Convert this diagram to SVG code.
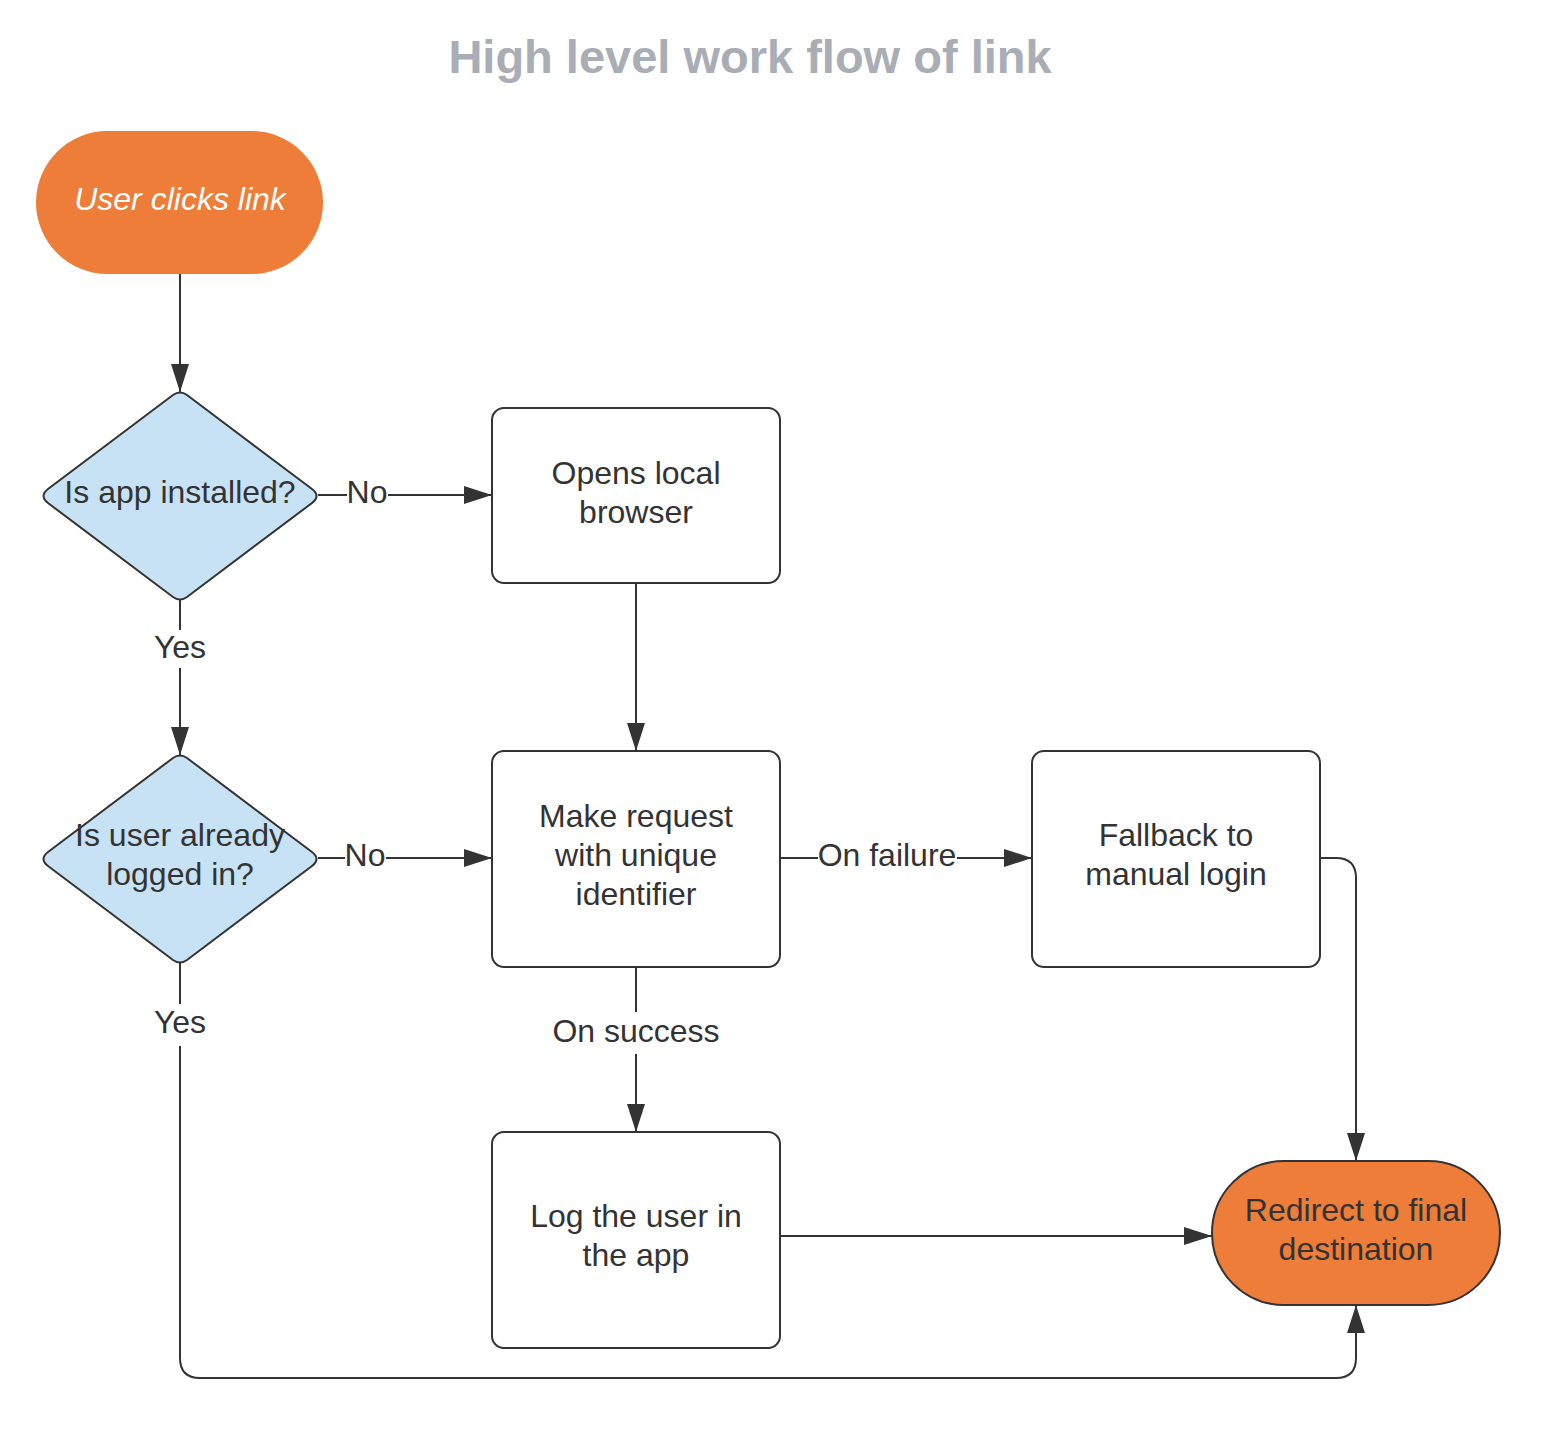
<svg xmlns="http://www.w3.org/2000/svg" width="1548" height="1430" viewBox="0 0 1548 1430">
<defs>
<style>
.t{font-family:"Liberation Sans",Arial,sans-serif;font-size:32px;fill:#333;text-anchor:middle}
.lbl{font-family:"Liberation Sans",Arial,sans-serif;font-size:32px;fill:#333;text-anchor:middle}
.box{fill:#fff;stroke:#333;stroke-width:2}
.dia{fill:#c7e2f5;stroke:#333;stroke-width:2;stroke-linejoin:round}
.term{fill:#ed7d38}
.c{fill:none;stroke:#333;stroke-width:2}
.bg{fill:#fff}
</style>
<marker id="ah" markerUnits="userSpaceOnUse" markerWidth="28" markerHeight="18" refX="28" refY="9" orient="auto">
<path d="M0,0 L28,9 L0,18 z" fill="#333"/>
</marker>
</defs>
<rect width="1548" height="1430" fill="#fff"/>
<text x="750" y="73" font-family="Liberation Sans,Arial,sans-serif" font-weight="bold" font-size="47" fill="#a9adb5" text-anchor="middle">High level work flow of link</text>

<g id="connectors">
<path class="c" d="M180,274 V392" marker-end="url(#ah)"/>
<path class="c" d="M318,495 H492" marker-end="url(#ah)"/>
<path class="c" d="M180,600 V755" marker-end="url(#ah)"/>
<path class="c" d="M636,583 V751" marker-end="url(#ah)"/>
<path class="c" d="M318,858 H492" marker-end="url(#ah)"/>
<path class="c" d="M780,858 H1032" marker-end="url(#ah)"/>
<path class="c" d="M636,967 V1132" marker-end="url(#ah)"/>
<path class="c" d="M1320,858 H1336 Q1356,858 1356,878 V1161" marker-end="url(#ah)"/>
<path class="c" d="M780,1236 H1212" marker-end="url(#ah)"/>
<path class="c" d="M180,963 V1358 Q180,1378 200,1378 H1336 Q1356,1378 1356,1358 V1305" marker-end="url(#ah)"/>
<rect class="bg" x="347" y="475" width="41" height="36"/>
<text class="lbl" x="367" y="503">No</text>
<rect class="bg" x="148" y="630" width="64" height="38"/>
<text class="lbl" x="180" y="658">Yes</text>
<rect class="bg" x="345" y="838" width="41" height="36"/>
<text class="lbl" x="365" y="866">No</text>
<rect class="bg" x="818" y="838" width="139" height="36"/>
<text class="lbl" x="887" y="866">On failure</text>
<rect class="bg" x="548" y="1012" width="176" height="42"/>
<text class="lbl" x="636" y="1042">On success</text>
<rect class="bg" x="148" y="1004" width="64" height="42"/>
<text class="lbl" x="180" y="1033">Yes</text>
</g>

<g id="start">
<rect class="term" x="36" y="131" width="287" height="143" rx="71.5"/>
<text class="t" x="180" y="210" style="fill:#fff;font-style:italic">User clicks link</text>
</g>
<g id="app-installed">
<path class="dia" d="M173,395 Q180,390 187,395 L312,489 Q321,496 312,503 L187,597 Q180,602 173,597 L48,503 Q39,496 48,489 Z"/>
<text class="t" x="180" y="503">Is app installed?</text>
</g>
<g id="opens-browser">
<rect class="box" x="492" y="408" width="288" height="175" rx="12"/>
<text class="t" x="636" y="484">Opens local</text>
<text class="t" x="636" y="523">browser</text>
</g>
<g id="logged-in">
<path class="dia" d="M173,758 Q180,753 187,758 L312,852 Q321,859 312,866 L187,960 Q180,965 173,960 L48,866 Q39,859 48,852 Z"/>
<text class="t" x="180" y="846">Is user already</text>
<text class="t" x="180" y="885">logged in?</text>
</g>
<g id="make-request">
<rect class="box" x="492" y="751" width="288" height="216" rx="12"/>
<text class="t" x="636" y="827">Make request</text>
<text class="t" x="636" y="866">with unique</text>
<text class="t" x="636" y="905">identifier</text>
</g>
<g id="fallback">
<rect class="box" x="1032" y="751" width="288" height="216" rx="12"/>
<text class="t" x="1176" y="846">Fallback to</text>
<text class="t" x="1176" y="885">manual login</text>
</g>
<g id="log-user">
<rect class="box" x="492" y="1132" width="288" height="216" rx="12"/>
<text class="t" x="636" y="1227">Log the user in</text>
<text class="t" x="636" y="1266">the app</text>
</g>
<g id="redirect">
<rect class="term" x="1212" y="1161" width="288" height="144" rx="72" stroke="#333" stroke-width="2"/>
<text class="t" x="1356" y="1221">Redirect to final</text>
<text class="t" x="1356" y="1260">destination</text>
</g>
</svg>
